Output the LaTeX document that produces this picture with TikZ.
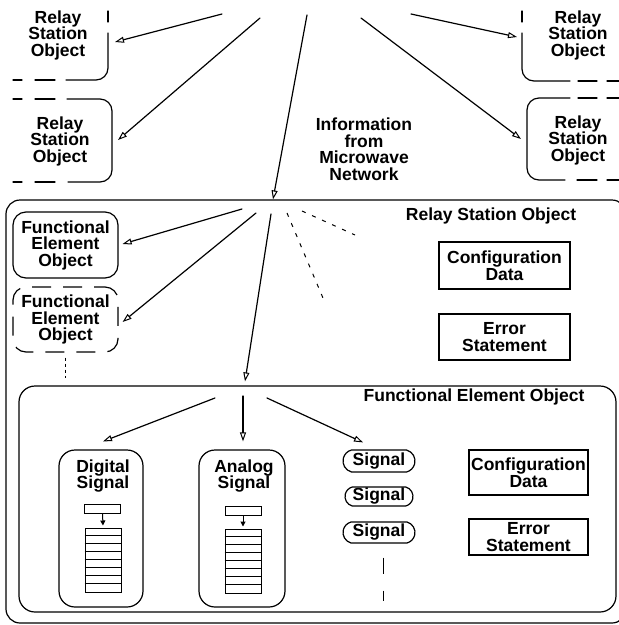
\documentclass[tikz,border=0pt]{standalone}
\usepackage{fontspec}
\setmainfont{Liberation Sans}
\usetikzlibrary{arrows.meta,shapes.misc}
\begin{document}
\begin{tikzpicture}[x=1pt,y=-1pt,
  lbl/.style={font=\fontsize{17.5}{16.5}\selectfont\bfseries, align=center, inner sep=0pt},
  edge/.style={line width=1.2pt, line cap=round},
  flow/.style={edge, -{Triangle[open,length=9pt,width=6pt,line width=1pt]}},
  rbox/.style={draw, line width=1.2pt, rounded corners=#1, inner sep=0pt},
  rbox/.default=14pt,
  sqbox/.style={draw, line width=1.2pt, inner sep=0pt, font=\fontsize{17.5}{16.5}\selectfont\bfseries, align=center},
  sigbox/.style={draw, line width=1.2pt, rounded rectangle, rounded rectangle arc length=150,
                 inner sep=0pt, font=\fontsize{17.5}{16.5}\selectfont\bfseries},
  reg/.style={draw, line width=1pt, inner sep=0pt, minimum width=36pt, minimum height=9pt},
  stack/.style={draw, line width=1pt, inner sep=0pt, minimum width=36pt, minimum height=64pt},
  tick/.style={line width=1pt, -{Triangle[length=5pt,width=5pt]}},
  hint/.style={line width=1pt, dash pattern=on 4pt off 7pt}
]
\useasboundingbox (0,0) rectangle (619,625);

% ---------- neighbouring relay stations (cut at the edges) ----------
\node[lbl] (rsoA) at (58,35) {Relay\\Station\\Object};
\draw[edge] (108,11) -- (108,22);
\draw[edge, rounded corners=12pt] (108,33) -- (108,80) -- (66,80);
\draw[edge] (55,80) -- (35,80) (22,80) -- (13,80);
\coordinate (rsoA-in) at (115,42);

\node[lbl] (rsoB) at (60,141) {Relay\\Station\\Object};
\draw[edge] (13,99) -- (22,99) (35,99) -- (55,99);
\draw[edge, rounded corners=12pt] (67,99) -- (112,99) -- (112,182) -- (68,182);
\draw[edge] (55,182) -- (35,182) (22,182) -- (13,182);
\coordinate (rsoB-in) at (118,140);

\node[lbl] (rsoC) at (578,35) {Relay\\Station\\Object};
\draw[edge] (522,11) -- (522,22);
\draw[edge, rounded corners=12pt] (522,33) -- (522,81) -- (570,81);
\draw[edge] (578,81) -- (597,81) (607,81) -- (619,81);
\coordinate (rsoC-in) at (517,37);

\node[lbl] (rsoD) at (578,140) {Relay\\Station\\Object};
\draw[edge, rounded corners=12pt] (570,98) -- (527,98) -- (527,180) -- (565,180);
\draw[edge] (578,98) -- (597,98) (607,98) -- (619,98) (577,180) -- (597,180) (607,180) -- (619,180);
\coordinate (rsoD-in) at (521,139);

\node[lbl] (info) at (364,149) {Information\\from\\Microwave\\Network};

% ---------- the relay station object ----------
\node[rbox=14pt, minimum width=620pt, minimum height=423pt] (rso) at (316,411.5) {};
\node[lbl, anchor=center] (rsoTitle) at (491,216) {Relay Station Object};

\node[rbox=13pt, minimum width=105pt, minimum height=66pt, lbl] (fe1) at (65.5,245) {Functional\\Element\\Object};
\node[rbox=13pt, minimum width=105pt, minimum height=65pt, lbl, dash pattern=on 19pt off 12pt, dash phase=8pt] (fe2) at (65.5,319.5) {Functional\\Element\\Object};
\draw[line width=1pt, dash pattern=on 3pt off 3pt] ([yshift=-5pt]fe2.south) -- ([yshift=-25pt]fe2.south);

\node[sqbox, minimum width=131pt, minimum height=47pt] (cfg1) at (504.5,265.5) {Configuration\\Data};
\node[sqbox, minimum width=131pt, minimum height=46pt] (err1) at (504.5,337) {Error\\Statement};

% fan of data flowing in from the network
\coordinate (n1) at (222,14);
\coordinate (n2) at (260,18);
\coordinate (n3) at (307,15);
\coordinate (n4) at (411,14);
\coordinate (n5) at (361,18);
\draw[flow] (n1) -- (rsoA-in);
\draw[flow] (n2) -- (rsoB-in);
\draw[flow] (n3) -- ([xshift=-43pt]rso.north);
\draw[flow] (n4) -- (rsoC-in);
\draw[flow] (n5) -- (rsoD-in);

% ---------- functional element object ----------
\node[rbox=16pt, minimum width=597pt, minimum height=226pt] (feo) at (317.5,499) {};
\node[lbl] (feoTitle) at (474,397) {Functional Element Object};

\coordinate (r1) at (242,209);
\coordinate (r2) at (256,213);
\coordinate (r3) at (271,214);
\draw[flow] (r1) -- ([xshift=4pt,yshift=1pt]fe1.east);
\draw[flow] (r2) -- ([xshift=4pt,yshift=-2.5pt]fe2.east);
\draw[flow] (r3) -- ([xshift=-72.5pt,yshift=4pt]feo.north);
\coordinate (r4) at (287,213);
\coordinate (r4e) at (323,298);
\coordinate (r5) at (302,211);
\coordinate (r5e) at (355,235);
\draw[hint] (r4) -- (r4e);
\draw[hint] (r5) -- (r5e);

% signal objects
\node[rbox=16pt, minimum width=84pt, minimum height=157pt] (dsig) at (101,528.5) {};
\node[lbl] (dsigT) at (103,476) {Digital\\Signal};
\node[reg] (dreg) at (102.5,508.5) {};
\node[stack] (dstack) at (103,560) {};
\foreach \k in {1,...,7}
  \draw[line width=0.9pt] ([yshift=-\k*8pt]dstack.north west) -- ([yshift=-\k*8pt]dstack.north east);
\draw[tick] (dreg.south) -- ([yshift=2pt]dstack.north);

\node[rbox=16pt, minimum width=86pt, minimum height=157pt] (asig) at (242,528.5) {};
\node[lbl] (asigT) at (244,476) {Analog\\Signal};
\node[reg] (areg) at (243,510.5) {};
\node[stack] (astack) at (243,561) {};
\foreach \k in {1,...,7}
  \draw[line width=0.9pt] ([yshift=-\k*8pt]astack.north west) -- ([yshift=-\k*8pt]astack.north east);
\draw[tick] (areg.south) -- ([yshift=2pt]astack.north);

\node[sigbox, minimum width=72pt, minimum height=22pt] (sig1) at (379,461) {Signal};
\node[sigbox, minimum width=68pt, minimum height=19pt] (sig2) at (379,496.5) {Signal};
\node[sigbox, minimum width=72pt, minimum height=21pt] (sig3) at (379,532.5) {Signal};
\draw[line width=1pt] ([xshift=4pt,yshift=-14pt]sig3.south) -- ([xshift=4pt,yshift=-30pt]sig3.south)
                      ([xshift=4pt,yshift=-47pt]sig3.south) -- ([xshift=4pt,yshift=-57pt]sig3.south);

\node[sqbox, minimum width=119pt, minimum height=45pt] (cfg2) at (528.5,472.5) {Configuration\\Data};
\node[sqbox, minimum width=119pt, minimum height=36pt] (err2) at (528.5,537) {Error\\Statement};

\coordinate (f1) at (215,398);
\coordinate (f2) at (243,396);
\coordinate (f3) at (267,398);
\draw[flow] (f1) -- ([xshift=2pt,yshift=8pt]dsig.north);
\draw[flow] (f2) -- ([xshift=1pt,yshift=8pt]asig.north);
\draw[flow] (f3) -- ([xshift=-16pt,yshift=7pt]sig1.north);
\end{tikzpicture}
\end{document}
